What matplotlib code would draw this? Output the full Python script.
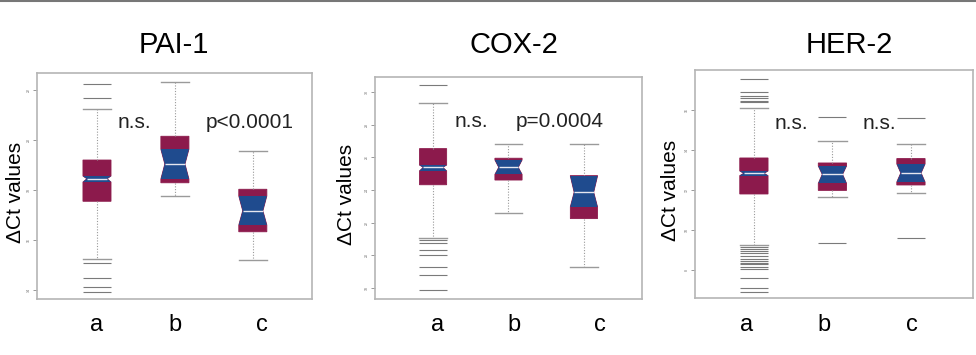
import numpy as np
import matplotlib
matplotlib.use("Agg")
import matplotlib.pyplot as plt
from matplotlib.patches import Rectangle
from matplotlib.lines import Line2D

plt.rcParams['font.family'] = ['Liberation Sans', 'DejaVu Sans']

# Data
genes = ["PAI-1", "COX-2", "HER-2"]
groups = ["a", "b", "c"]

# columns: whislo, q1, cilo, med, cihi, q3, whishi
pai1_stats = np.array([
    [15.24, 17.55, 18.32, 18.45, 18.56, 19.20, 21.24],
    [17.76, 18.29, 18.44, 19.04, 19.63, 20.15, 22.33],
    [15.20, 16.33, 16.60, 17.17, 17.76, 18.03, 19.57],
])
pai1_fliers = [[22.23, 21.69, 15.07, 14.47, 14.13, 13.91], [], []]

cox2_stats = np.array([
    [21.03, 24.32, 25.17, 25.39, 25.53, 26.54, 29.32],
    [22.57, 24.61, 24.96, 25.39, 25.84, 25.95, 26.82],
    [19.25, 22.24, 22.97, 23.86, 24.85, 24.88, 26.81],
])
cox2_fliers = [[30.45, 20.92, 20.76, 20.31, 20.00, 19.25, 18.76, 17.86], [], []]

her2_stats = np.array([
    [9.25, 11.80, 12.72, 12.83, 12.95, 13.60, 16.08],
    [11.63, 11.98, 12.33, 12.78, 13.20, 13.35, 14.47],
    [11.83, 12.25, 12.40, 12.85, 13.30, 13.57, 14.28],
])
her2_fliers = [
    [17.53, 16.88, 16.70, 16.58, 16.47, 16.38,
     9.17, 9.05, 8.95, 8.83, 8.70, 8.57, 8.45, 8.37, 8.28, 8.17, 8.07,
     7.62, 7.12, 6.88],
    [15.67, 9.33],
    [15.58, 9.62],
]

pai1_ticks = [14, 16, 18, 20, 22]
cox2_ticks = [18, 20, 22, 24, 26, 28, 30]
her2_ticks = [8, 10, 12, 14, 16]

pai1_notes = ["n.s.", "p<0.0001"]
cox2_notes = ["n.s.", "p=0.0004"]
her2_notes = ["n.s.", "n.s."]

MAROON = "#8c1a4c"
BLUE = "#1f4b8e"
GRAY = "#9a9a9a"

fig = plt.figure(figsize=(9.76, 3.55), dpi=100)

panels = [
    (pai1_stats, pai1_fliers, pai1_ticks, pai1_notes,
     [0.0379, 0.1577, 0.2818, 0.6366], (0.23, 3.76), (13.64, 22.68),
     [(1.26, 20.7), (2.39, 20.7)]),
    (cox2_stats, cox2_fliers, cox2_ticks, cox2_notes,
     [0.3842, 0.1577, 0.2736, 0.6254], (0.23, 3.77), (17.3, 30.94),
     [(1.29, 28.2), (2.09, 28.2)]),
    (her2_stats, her2_fliers, her2_ticks, her2_notes,
     [0.7121, 0.1606, 0.2848, 0.6423], (0.25, 3.79), (6.6, 18.0),
     [(1.26, 15.3), (2.39, 15.3)]),
]

title_x = [0.178, 0.527, 0.87]
ylabel_x = [0.006, 0.345, 0.677]
label_x = [[0.099, 0.179, 0.268], [0.448, 0.527, 0.615], [0.765, 0.844, 0.934]]

w = 0.36
notch_half = w * 0.36

for i, (stats, fliers, ticks, notes, rect, xl, yl, note_pos) in enumerate(panels):
    ax = fig.add_axes(rect)
    bstats = []
    for row, fl in zip(stats, fliers):
        wl, q1, clo, med, chi, q3, wh = row
        bstats.append(dict(whislo=wl, q1=q1, cilo=clo, med=med, cihi=chi,
                           q3=q3, whishi=wh, fliers=fl))
    res = ax.bxp(bstats, positions=[1, 2, 3], widths=w, shownotches=True,
                 patch_artist=True, showfliers=True, capwidths=w,
                 boxprops=dict(facecolor=MAROON, edgecolor=MAROON, linewidth=0.6),
                 whiskerprops=dict(color=GRAY, linestyle=(0, (1, 1.5)), linewidth=0.8),
                 capprops=dict(color=GRAY, linewidth=1.0),
                 medianprops=dict(color="#e6e6ef", linewidth=1.0, zorder=5),
                 flierprops=dict(marker="_", markersize=20, markeredgewidth=0.8,
                                 markeredgecolor="#7a7a7a", linestyle="none"))
    for pos, row, patch, mline in zip([1, 2, 3], stats, res["boxes"], res["medians"]):
        # shallower notch, like the R drawing
        verts = patch.get_path().vertices
        for v in verts:
            if abs(v[1] - row[3]) < 1e-9:
                v[0] = pos + notch_half if v[0] > pos else pos - notch_half
        mline.set_xdata([pos - notch_half, pos + notch_half])
        r = Rectangle((pos - w / 2, row[2]), w, row[4] - row[2],
                      facecolor=BLUE, edgecolor="none", zorder=patch.get_zorder() + 0.1)
        ax.add_patch(r)
        r.set_clip_path(patch)
    ax.set_xlim(*xl)
    ax.set_ylim(*yl)
    ax.set_xticks([])
    ax.set_yticks(ticks)
    ax.set_yticklabels([str(t) for t in ticks], fontsize=2.5, rotation=90,
                       va="center", color="#666666")
    ax.tick_params(axis="y", length=3, width=0.6, color="#888888", pad=1.5)
    for sp in ax.spines.values():
        sp.set_color("#b5b5b5")
        sp.set_linewidth(1.2)
    for txt, (x, y) in zip(notes, note_pos):
        ax.text(x, y, txt, fontsize=15, ha="left", va="center", color="#222222")

    fig.text(title_x[i], 0.873, genes[i], fontsize=21, ha="center", va="center")
    fig.text(ylabel_x[i], rect[1] + rect[3] * 0.47, "ΔCt values", fontsize=15,
             rotation=90, ha="left", va="center")
    for g, gx in zip(groups, label_x[i]):
        fig.text(gx, 0.085, g, fontsize=17, ha="center", va="center")

fig.add_artist(Line2D([0, 1], [0.997, 0.997], color="#777777", linewidth=1.5,
                      transform=fig.transFigure))

fig.savefig("out.png", dpi=100)
